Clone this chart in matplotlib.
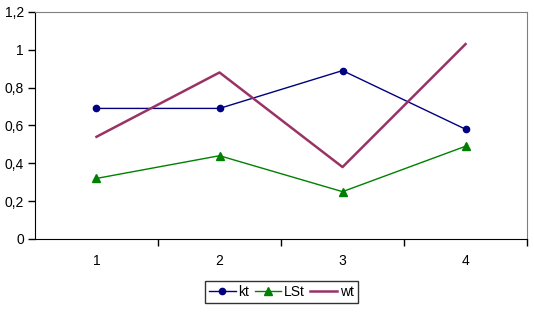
import matplotlib
matplotlib.use('Agg')
import matplotlib.pyplot as plt
from matplotlib.ticker import FuncFormatter

plt.rcParams['font.family'] = ['Liberation Sans', 'DejaVu Sans']

categories = [1, 2, 3, 4]
kt = [0.69, 0.69, 0.89, 0.58]
lst = [0.32, 0.44, 0.25, 0.49]
wt = [0.54, 0.88, 0.38, 1.03]

fig = plt.figure(figsize=(5.34, 3.14), dpi=100)
ax = fig.add_axes([0.0655, 0.239, 0.9215, 0.723])

x = list(range(len(categories)))
ax.plot(x, kt, color='#000080', lw=1, marker='o', ms=4.5, label='kt')
ax.plot(x, lst, color='#008000', lw=1, marker='^', ms=5.5, label='LSt')
ax.plot(x, wt, color='#993366', lw=1.8, label='wt')

ax.set_xlim(-0.5, len(categories) - 0.5)
ax.set_ylim(0, 1.2)
ax.set_yticks([0, 0.2, 0.4, 0.6, 0.8, 1.0, 1.2])
ax.yaxis.set_major_formatter(FuncFormatter(lambda v, p: f'{v:g}'.replace('.', ',')))

# category labels centred, tick marks on the boundaries
ax.set_xticks([i + 0.5 for i in x])
ax.set_xticklabels([])
ax.set_xticks(x, minor=True)
ax.set_xticklabels([str(c) for c in categories], minor=True)
ax.tick_params(axis='x', which='minor', length=0, pad=11)
ax.tick_params(axis='x', which='major', length=5, width=1, color='black')
ax.tick_params(axis='y', length=5, width=1, pad=3)
ax.tick_params(labelsize=10, labelcolor='black')

for s in ['left', 'bottom']:
    ax.spines[s].set_color('black')
for s in ['top', 'right']:
    ax.spines[s].set_color('#808080')

leg = fig.legend(loc='center', bbox_to_anchor=(0.527, 0.07), ncol=3, fontsize=10,
                 frameon=True, fancybox=False, edgecolor='black', handlelength=1.9,
                 handletextpad=0.2, columnspacing=0.4, borderpad=0.3, borderaxespad=0)
leg.get_frame().set_linewidth(1)

fig.savefig('out.png', dpi=100)
